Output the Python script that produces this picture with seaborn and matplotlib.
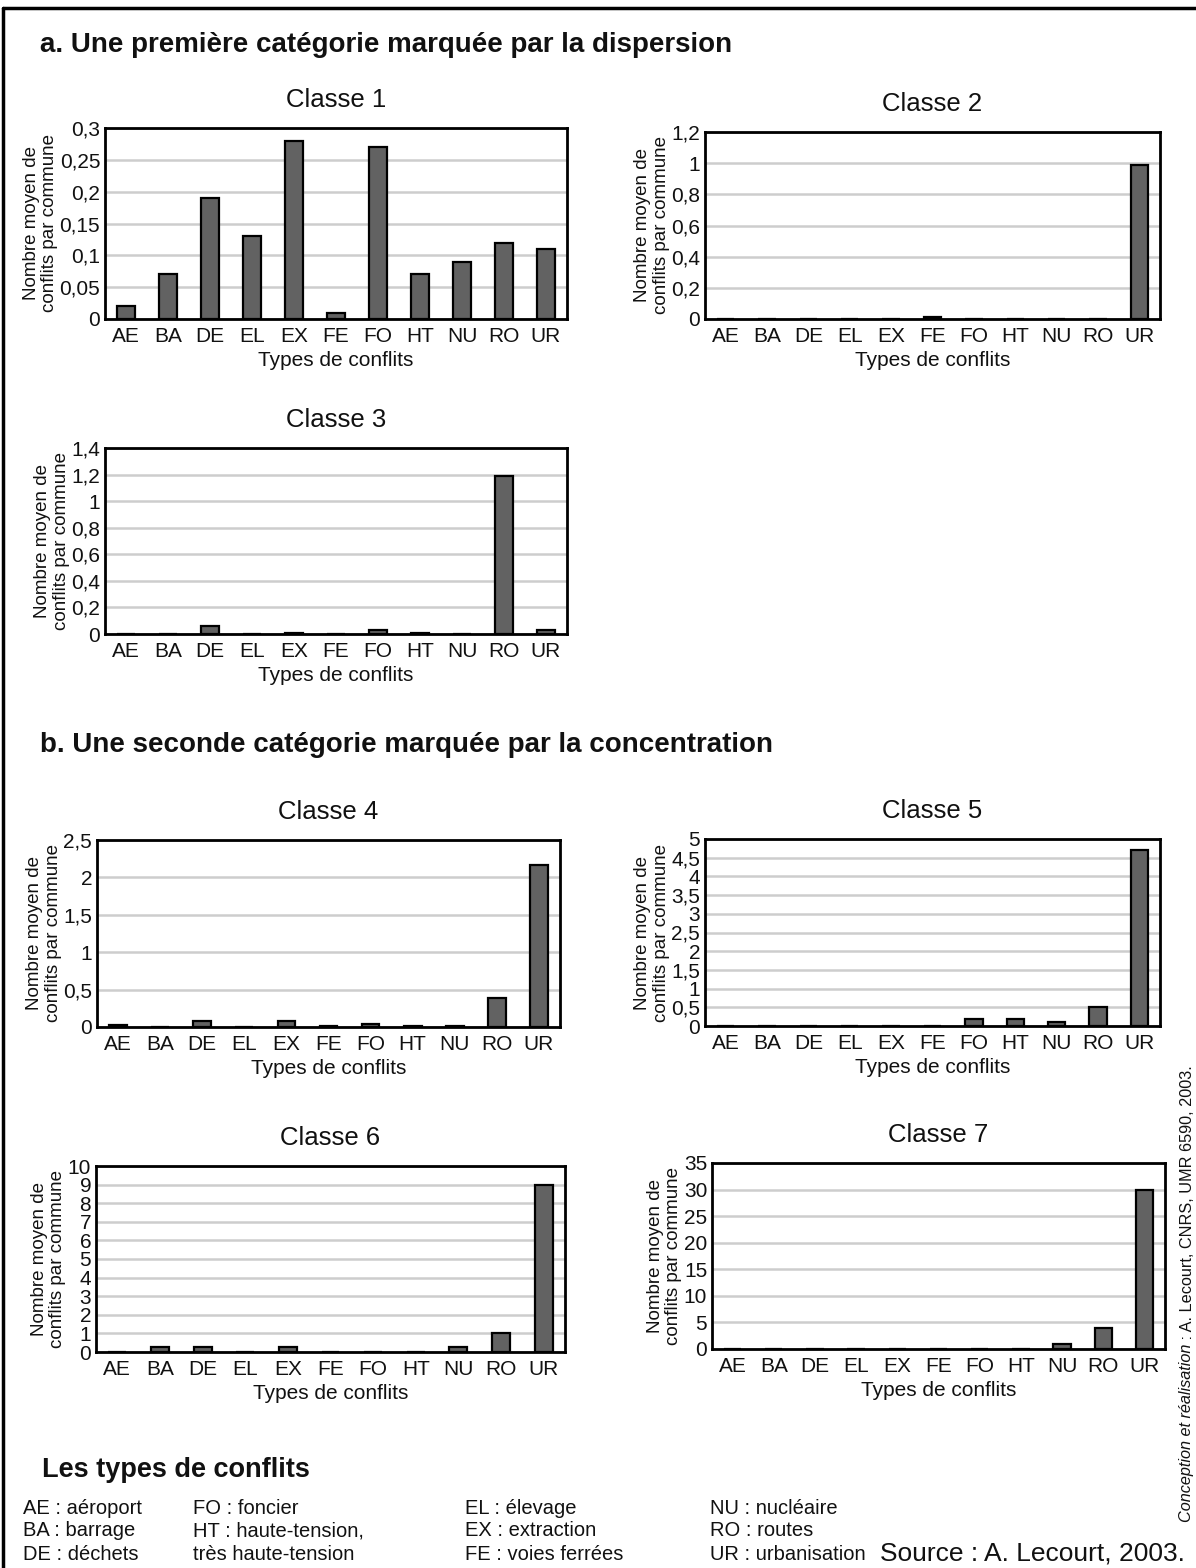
import matplotlib
matplotlib.use("Agg")
import matplotlib.pyplot as plt
import seaborn as sns
from matplotlib.lines import Line2D
from matplotlib.ticker import FixedLocator, FuncFormatter

# -----------------------------
# Data
# -----------------------------
types = ["AE", "BA", "DE", "EL", "EX", "FE", "FO", "HT", "NU", "RO", "UR"]

classe1 = [0.02, 0.07, 0.19, 0.13, 0.28, 0.01, 0.27, 0.07, 0.09, 0.12, 0.11]
classe2 = [0, 0, 0, 0, 0, 0.01, 0, 0, 0, 0, 0.99]
classe3 = [0, 0, 0.06, 0, 0.01, 0, 0.03, 0.01, 0, 1.19, 0.03]
classe4 = [0.03, 0, 0.08, 0, 0.08, 0.01, 0.045, 0.01, 0.01, 0.39, 2.17]
classe5 = [0, 0, 0, 0, 0, 0, 0.2, 0.2, 0.1, 0.52, 4.7]
classe6 = [0, 0.25, 0.25, 0, 0.25, 0, 0, 0, 0.25, 1.0, 9.0]
classe7 = [0, 0, 0, 0, 0, 0, 0, 0, 1.0, 4.0, 30.0]

# y scale of each panel: (max, step)
y_scales = [(0.3, 0.05), (1.2, 0.2), (1.4, 0.2), (2.5, 0.5), (5, 0.5), (10, 1), (35, 5)]

legend_cols = [
    ["AE : aéroport", "BA : barrage", "DE : déchets"],
    ["FO : foncier", "HT : haute-tension,", "très haute-tension"],
    ["EL : élevage", "EX : extraction", "FE : voies ferrées"],
    ["NU : nucléaire", "RO : routes", "UR : urbanisation"],
]

# -----------------------------
# Figure setup
# -----------------------------
W, H = 1196, 1568
sns.set_theme(style="white")
plt.rcParams["font.family"] = ["Liberation Sans", "DejaVu Sans"]

fig = plt.figure(figsize=(W / 100, H / 100), dpi=100)
fig.patch.set_facecolor("white")

# panel boxes in pixels: left, top, right, bottom
boxes = [
    (105, 128, 567, 319),
    (705, 132, 1160, 319),
    (105, 448, 567, 634),
    (97, 840, 560, 1027),
    (705, 839, 1160, 1026),
    (96, 1166, 565, 1352),
    (712, 1163, 1165, 1349),
]

series = [classe1, classe2, classe3, classe4, classe5, classe6, classe7]
INK = "#111111"


def fmt_fr(v, pos=None):
    return f"{round(v, 4):g}".replace(".", ",")


for i, (vals, box, (ymax, step)) in enumerate(zip(series, boxes, y_scales)):
    l, t, r, b = box
    ax = fig.add_axes([l / W, 1 - b / H, (r - l) / W, (b - t) / H])
    sns.barplot(x=types, y=vals, ax=ax, color="#626262", saturation=1,
                width=0.42, edgecolor="black", linewidth=1.6)
    ax.set_ylim(0, ymax)
    nticks = int(round(ymax / step))
    ax.yaxis.set_major_locator(FixedLocator([k * step for k in range(nticks + 1)]))
    ax.yaxis.set_major_formatter(FuncFormatter(fmt_fr))
    ax.yaxis.grid(True, color="#cdcdcd", linewidth=1.8)
    ax.set_axisbelow(True)
    for sp in ax.spines.values():
        sp.set_color("black")
        sp.set_linewidth(2)
    ax.tick_params(axis="both", length=0, labelsize=15, colors=INK)
    ax.tick_params(axis="y", pad=3.5)
    ax.tick_params(axis="x", pad=6)
    ax.set_xlabel("Types de conflits", fontsize=15, labelpad=3.5, color=INK)
    ax.set_ylabel("Nombre moyen de\nconflits par commune", fontsize=13.5,
                  labelpad=1, linespacing=1.1, color=INK)
    ax.set_title(f"Classe {i + 1}", fontsize=18.5, pad=15, color=INK)

# -----------------------------
# Texts
# -----------------------------
def px_text(x, y, s, **kw):
    return fig.text(x / W, 1 - y / H, s, **kw)


px_text(40, 45, "a. Une première catégorie marquée par la dispersion",
        fontsize=20, fontweight="bold", va="center", color=INK)
px_text(40, 745, "b. Une seconde catégorie marquée par la concentration",
        fontsize=20, fontweight="bold", va="center", color=INK)
px_text(42, 1470, "Les types de conflits",
        fontsize=19.5, fontweight="bold", va="center", color=INK)

col_x = [23, 193, 465, 710]
row_y = [1508, 1531, 1554]
for cx, entries in zip(col_x, legend_cols):
    for ry, s in zip(row_y, entries):
        px_text(cx, ry, s, fontsize=14.5, va="center", color=INK)

px_text(880, 1553, "Source : A. Lecourt, 2003.", fontsize=19, va="center", color=INK)

# vertical credit, italic part then regular part
t1 = px_text(1187, 1522, "Conception et réalisation", fontsize=11.7, style="italic",
             rotation=90, ha="center", va="bottom", color=INK)
fig.canvas.draw()
bb = t1.get_window_extent()
fig.text(1187 / W, bb.y1 / H, " : A. Lecourt, CNRS, UMR 6590, 2003.", fontsize=11.7,
         rotation=90, ha="center", va="bottom", color=INK)

# frame (left and top edges visible)
fig.add_artist(Line2D([3 / W, 3 / W], [0, 1 - 8 / H], color="black", linewidth=2.5,
                      transform=fig.transFigure))
fig.add_artist(Line2D([3 / W, 1], [1 - 8 / H, 1 - 8 / H], color="black", linewidth=2.5,
                      transform=fig.transFigure))

fig.savefig("out.png", dpi=100, facecolor="white")
